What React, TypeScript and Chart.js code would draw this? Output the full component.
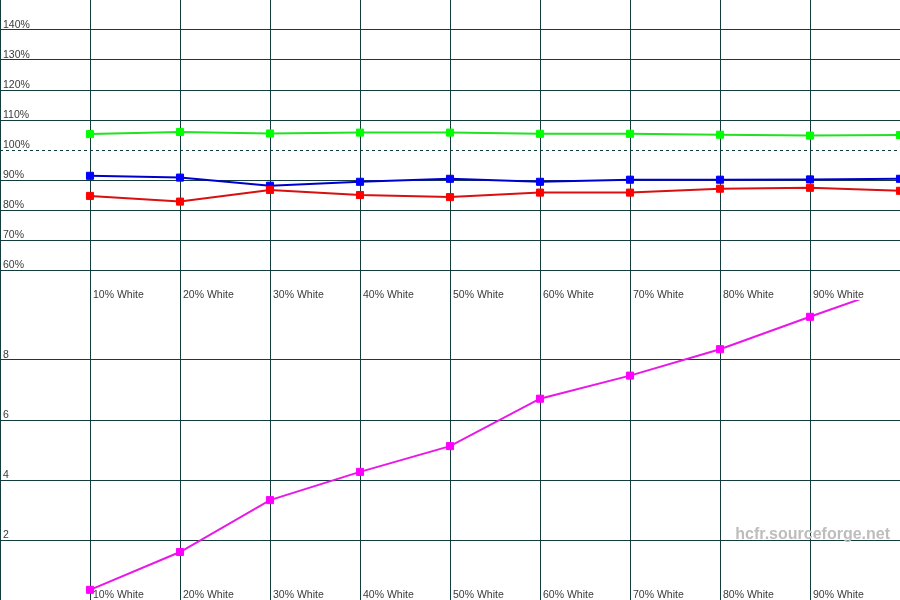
import React, { useEffect, useRef } from "react";
import { Chart, registerables } from "chart.js";

Chart.register(...registerables);

const categories = [
  "10% White", "20% White", "30% White", "40% White", "50% White",
  "60% White", "70% White", "80% White", "90% White", "100% White",
];
const xPositions = [10, 20, 30, 40, 50, 60, 70, 80, 90, 100];

const greenPct = [105.3, 106.0, 105.5, 105.8, 105.8, 105.4, 105.4, 105.1, 104.8, 105.0];
const bluePct = [91.4, 90.8, 88.1, 89.4, 90.4, 89.4, 90.1, 90.1, 90.2, 90.4];
const redPct = [84.7, 82.8, 86.7, 85.0, 84.3, 85.8, 85.8, 87.1, 87.4, 86.4];
const magentaVals = [0.34, 1.6, 3.33, 4.27, 5.13, 6.71, 7.48, 8.36, 9.44, 10.5];

const topTicks = [60, 70, 80, 90, 100, 110, 120, 130, 140];
const bottomTicks = [2, 4, 6, 8];

const GRID = "#143c3c";
const TEXT = "#3a3a3a";
const FONT = '10.5px "Liberation Sans", Arial, sans-serif';

const pts = (vals: number[]) => vals.map((v, i) => ({ x: xPositions[i], y: v }));

const ds = (vals: number[], line: string, mark: string) => ({
  data: pts(vals),
  borderColor: line,
  borderWidth: 2,
  pointStyle: "rect" as const,
  pointRadius: 5,
  pointBorderWidth: 1,
  pointBackgroundColor: mark,
  pointBorderColor: mark,
  tension: 0,
  clip: 0,
});

function makeLabelPlugin(yTicks: number[], fmt: (v: number) => string, watermark: boolean) {
  return {
    id: "customLabels",
    beforeDatasetsDraw(chart: any) {
      const { ctx, chartArea, scales } = chart;
      ctx.save();
      ctx.font = FONT;
      ctx.fillStyle = TEXT;
      ctx.textAlign = "left";
      ctx.textBaseline = "alphabetic";
      yTicks.forEach((v) => {
        ctx.fillText(fmt(v), chartArea.left + 3, scales.y.getPixelForValue(v) - 2);
      });
      categories.forEach((c, i) => {
        ctx.fillText(c, scales.x.getPixelForValue(xPositions[i]) + 3, chartArea.bottom - 2);
      });
      ctx.restore();
    },
    afterDraw(chart: any) {
      if (!watermark) return;
      const { ctx, chartArea, scales } = chart;
      ctx.save();
      ctx.font = 'bold 16px "Liberation Sans", Arial, sans-serif';
      ctx.fillStyle = "#bdbdbd";
      ctx.textAlign = "right";
      ctx.textBaseline = "alphabetic";
      ctx.fillText("hcfr.sourceforge.net", chartArea.right - 10, scales.y.getPixelForValue(2) - 1.5);
      ctx.restore();
    },
  };
}

function xScale() {
  return {
    type: "linear" as const,
    min: 0,
    max: 100,
    ticks: { display: false, stepSize: 10 },
    grid: { color: GRID, lineWidth: 1, drawTicks: false },
    border: { display: false },
  };
}

export default function App() {
  const topRef = useRef<HTMLCanvasElement>(null);
  const botRef = useRef<HTMLCanvasElement>(null);

  useEffect(() => {
    document.body.style.margin = "0";
    const top = new Chart(topRef.current as HTMLCanvasElement, {
      type: "line",
      data: {
        datasets: [
          ds(redPct, "#d81010", "#ff0000"),
          ds(bluePct, "#0000cc", "#0000ff"),
          ds(greenPct, "#22e022", "#00ff00"),
        ],
      },
      options: {
        responsive: false,
        animation: false,
        layout: { padding: 0, autoPadding: false },
        plugins: { legend: { display: false }, tooltip: { enabled: false } },
        scales: {
          x: xScale(),
          y: {
            type: "linear",
            min: 50,
            max: 150,
            ticks: { display: false, stepSize: 10 },
            grid: {
              drawTicks: false,
              lineWidth: 1,
              color: (c: any) =>
                c.tick && c.tick.value >= 60 && c.tick.value <= 140 ? GRID : "rgba(0,0,0,0)",
            },
            border: {
              display: false,
              dash: (c: any) => (c.tick && c.tick.value === 100 ? [3, 3] : []),
            },
          },
        },
      } as any,
      plugins: [makeLabelPlugin(topTicks, (v) => `${v}%`, false)],
    });

    const bot = new Chart(botRef.current as HTMLCanvasElement, {
      type: "line",
      data: {
        datasets: [ds(magentaVals, "#e818e8", "#ff00ff")],
      },
      options: {
        responsive: false,
        animation: false,
        layout: { padding: 0, autoPadding: false },
        plugins: { legend: { display: false }, tooltip: { enabled: false } },
        scales: {
          x: xScale(),
          y: {
            type: "linear",
            min: 0,
            max: 10,
            ticks: { display: false, stepSize: 2 },
            grid: {
              drawTicks: false,
              lineWidth: 1,
              color: (c: any) =>
                c.tick && c.tick.value >= 2 && c.tick.value <= 8 ? GRID : "rgba(0,0,0,0)",
            },
            border: { display: false },
          },
        },
      } as any,
      plugins: [makeLabelPlugin(bottomTicks, (v) => `${v}`, true)],
    });

    return () => {
      top.destroy();
      bot.destroy();
    };
  }, []);

  return (
    <div style={{ position: "fixed", left: 0, top: 0, width: 900, height: 600, background: "#fff" }}>
      <canvas ref={topRef} width={900} height={300} style={{ position: "absolute", left: 0, top: 0 }} />
      <canvas ref={botRef} width={900} height={300} style={{ position: "absolute", left: 0, top: 300 }} />
    </div>
  );
}
